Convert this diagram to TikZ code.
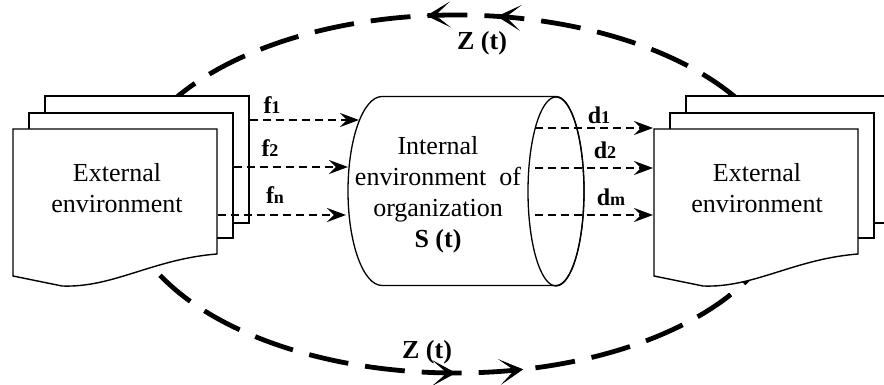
\documentclass[tikz,border=0pt]{standalone}
\usepackage{fontspec}
\setmainfont{Liberation Serif}
\usetikzlibrary{arrows.meta, decorations.markings}

\begin{document}
\begin{tikzpicture}[
      x=1pt, y=1pt,
      docpage/.style={draw, line width=1.4pt, fill=white},
      flowarrow/.style={line width=2.3pt, dash pattern=on 8pt off 5pt,
        -{Stealth[length=19pt, width=14pt, inset=7pt]}},
      looptip/.tip={Stealth[length=24pt, width=26pt, inset=15pt, line width=1pt]},
      bigloop/.style={line width=4.8pt, dash pattern=on 40pt off 17pt,
        postaction={decorate, decoration={markings,
          mark=at position 0.225 with {\arrow{looptip}},
          mark=at position 0.268 with {\arrow{looptip}},
          mark=at position 0.750 with {\arrow{looptip}},
          mark=at position 0.791 with {\arrow{looptip}}}}},
      every node/.style={font=\fontsize{26}{31}\selectfont, align=center, inner sep=0pt},
      lbl/.style={font=\fontsize{24}{24}\selectfont\bfseries}
    ]
      \clip (0,0) rectangle (884,385);

      % Z(t) loop round the organization
      \draw[bigloop] (788,191) arc[start angle=0, end angle=360, x radius=332, y radius=179];

      % stacks of pages
      \foreach \sx in {13, 654} {
        \draw[docpage] (\sx+32,162) rectangle ++(204,127);
        \draw[docpage] (\sx+16,147) rectangle ++(204,125);
        \draw[docpage] (\sx,256) -- ++(204,0) -- ++(0,-125)
          .. controls ++(-64,-5) and (\sx+100,97) .. (\sx+49,99) -- (\sx,109) -- cycle;
      }

      % cylinder
      \draw[line width=1.3pt, fill=white] (382,288.5) -- (556,288.5)
        arc[start angle=90, end angle=-90, x radius=28, y radius=94.5] -- (382,99.5)
        arc[start angle=270, end angle=90, x radius=34, y radius=94.5] -- cycle;
      \draw[line width=1.3pt] (556,193.5) ellipse[x radius=28, y radius=94.5];

      % inputs and outputs
      \foreach \i/\y/\xa/\xb in {1/265/250/359, 2/218/234/348, n/170/218/346} {
        \coordinate (fs\i) at (\xa,\y);
        \coordinate (fe\i) at (\xb,\y);
        \draw[flowarrow] (fs\i) -- (fe\i);
      }
      \foreach \i/\y in {1/257, 2/217, m/170} {
        \coordinate (ds\i) at (535,\y);
        \coordinate (de\i) at (653,\y);
        \draw[flowarrow] (ds\i) -- (de\i);
      }

      \node (extL) at (117,197) {External\\environment};
      \node (extR) at (757,197) {External\\environment};
      \node (intS) at (438,190) {Internal\\environment~ of\\organization\\\textbf{S (t)}};

      \node[lbl] (lf1) at (272,280) {f{\fontsize{18}{18}\selectfont 1}};
      \node[lbl] (lf2) at (270,237) {f{\fontsize{18}{18}\selectfont 2}};
      \node[lbl] (lfn) at (275,190) {f{\fontsize{18}{18}\selectfont n}};
      \node[lbl] (ld1) at (599,270) {d{\fontsize{18}{18}\selectfont 1}};
      \node[lbl] (ld2) at (605,235) {d{\fontsize{18}{18}\selectfont 2}};
      \node[lbl] (ldm) at (611,188) {d{\fontsize{18}{18}\selectfont m}};

      \node[font=\fontsize{26}{26}\selectfont\bfseries] (ztop) at (482,342) {Z (t)};
      \node[font=\fontsize{26}{26}\selectfont\bfseries] (zbot) at (427,33) {Z (t)};
    \end{tikzpicture}
\end{document}
